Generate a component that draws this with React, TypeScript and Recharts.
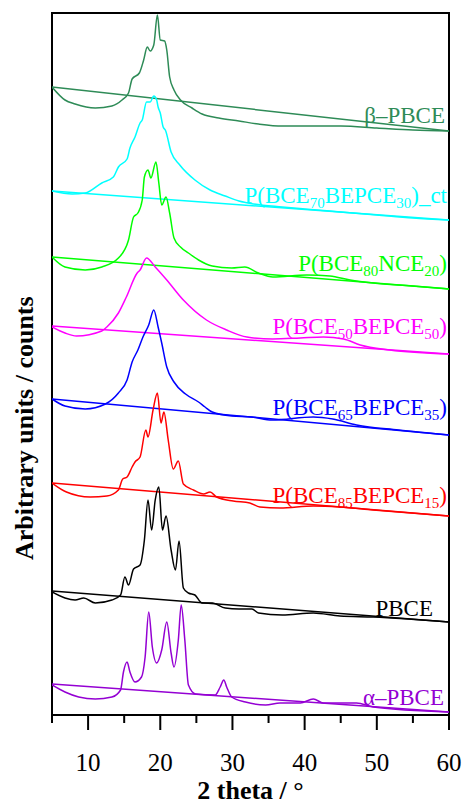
import React from 'react';
import { LineChart, Line, XAxis, YAxis, ReferenceArea } from 'recharts';

// 2 theta range and arbitrary intensity scale (patterns are stacked with offsets)
const X_DOMAIN = [5, 60];
const Y_DOMAIN = [0, 702];
const X_TICKS = [5, 10, 15, 20, 25, 30, 35, 40, 45, 50, 55, 60];

// beta-PBCE
const betaX = [5.0, 6.8, 8.2, 11.0, 13.3, 14.7, 15.6, 16.1, 17.1, 17.7, 18.2, 18.6, 19.1, 19.6, 20.0, 20.6, 20.9, 21.3, 21.9, 22.8, 24.4, 25.8, 28.1, 30.9, 33.6, 36.9, 40, 45, 50, 55, 60];
const betaY = [628, 615, 611, 607, 609, 615, 622, 636, 642, 655, 668, 664, 670, 700, 675, 674, 665, 638, 625, 615, 607, 601, 597, 594, 591, 589, 589, 589, 587, 585, 584];

// P(BCE70BEPCE30)_ct
const ctX = [5.0, 7.8, 9.6, 11.9, 13.5, 14.2, 15.4, 15.8, 16.5, 17.2, 17.5, 18.1, 18.6, 19.1, 19.5, 19.7, 20.0, 20.4, 20.7, 21.5, 22.7, 24.8, 26.9, 29.0, 30.9, 33.0, 36.9, 40, 45, 50, 55, 60];
const ctY = [524, 521, 522, 532, 538, 548, 556, 567, 578, 592, 595, 613, 613, 619, 615, 608, 602, 588, 585, 563, 550, 535, 525, 519, 514, 511, 508, 506, 503, 500, 497, 495];

// P(BCE80NCE20)
const nceX = [5.0, 6.8, 9.6, 11.9, 14.2, 15.6, 16.3, 16.9, 17.5, 17.8, 18.3, 18.7, 19.4, 19.8, 20.2, 20.8, 21.3, 21.9, 22.8, 23.9, 25.3, 27.2, 29.9, 31.7, 33.6, 35.6, 40.3, 43.5, 46.3, 49.5, 55, 60];
const nceY = [458, 448, 445, 448, 457, 475, 498, 502, 515, 538, 545, 537, 553, 532, 510, 518, 502, 477, 468, 462, 455, 449, 447, 448, 442, 438, 440, 439, 435, 432, 429, 426];

// P(BCE50BEPCE50)
const b50X = [5.0, 6.8, 8.4, 11.9, 12.6, 14.2, 15.3, 16.8, 17.2, 18.1, 19.3, 20.9, 23.2, 26.4, 29.2, 32.0, 35.6, 39.4, 42.6, 45.4, 47.7, 51.8, 60];
const b50Y = [388, 382, 379, 384, 388, 402, 418, 442, 445, 457, 448, 435, 415, 395, 385, 378, 376, 377, 378, 376, 370, 365, 361];

// P(BCE65BEPCE35)
const b65X = [5.0, 6.8, 9.6, 12.4, 14.2, 15.4, 16.1, 16.9, 17.6, 18.4, 19.1, 19.7, 20.2, 20.9, 21.9, 23.5, 25.3, 26.2, 27.2, 29.9, 32.7, 35.5, 41.2, 43.9, 47.2, 53, 60];
const b65Y = [316, 309, 306, 311, 322, 335, 353, 365, 378, 390, 405, 388, 372, 348, 333, 321, 313, 308, 303, 299, 298, 295, 298, 296, 290, 285, 280];

// P(BCE85BEPCE15)
const b85X = [5.0, 7.0, 10.3, 12.6, 14.2, 14.8, 15.4, 16.1, 16.5, 17.2, 18.0, 18.3, 19.0, 19.6, 20.1, 20.5, 21.1, 21.8, 22.5, 23.2, 24.6, 26.0, 26.9, 27.8, 30.1, 32.4, 33.8, 36.6, 41.2, 44.9, 49.5, 60];
const b85Y = [232, 223, 218, 219, 225, 236, 238, 248, 253, 258, 285, 278, 305, 322, 292, 303, 275, 246, 254, 231, 225, 221, 223, 218, 214, 212, 208, 207, 209, 208, 205, 199];

// PBCE
const pbceX = [5.0, 6.8, 8.2, 9.4, 11.0, 13.3, 14.5, 15.1, 15.6, 16.3, 17.2, 17.8, 18.3, 18.8, 19.3, 19.8, 20.3, 20.8, 21.5, 22.1, 22.6, 23.2, 23.9, 24.8, 25.8, 27.2, 29.0, 30.9, 32.7, 33.6, 36.9, 41.2, 44.9, 49.5, 60];
const pbceY = [123, 117, 115, 117, 112, 115, 120, 138, 130, 146, 150, 175, 215, 185, 215, 228, 185, 199, 165, 145, 174, 127, 122, 120, 112, 112, 107, 106, 106, 102, 100, 102, 99, 98, 93];

// alpha-PBCE
const alphaX = [5.0, 6.8, 8.7, 11.0, 13.3, 14.5, 14.9, 15.4, 15.8, 16.5, 17.4, 17.9, 18.4, 18.9, 19.5, 20.2, 20.9, 21.5, 21.9, 22.5, 22.9, 23.4, 23.9, 24.9, 27.6, 28.3, 28.8, 29.2, 29.9, 31.8, 34.6, 36.6, 39.4, 41.2, 42.6, 47.2, 49.5, 60];
const alphaY = [30, 23, 18, 16, 18, 25, 43, 53, 43, 33, 38, 58, 103, 68, 52, 65, 93, 62, 48, 75, 110, 75, 30, 21, 20, 28, 35, 28, 18, 13, 10, 12, 12, 16, 12, 12, 8, 3];

// straight reference lines drawn under each pattern (value at 5 and at 60)
const baseStart = [628, 524, 458, 389, 316, 232, 124, 31];
const baseEnd = [584, 495, 426, 361, 280, 199, 93, 3];

const COLORS = ['#2E8B57', '#00FFFF', '#00FF00', '#FF00FF', '#0000FF', '#FF0000', '#000000', '#9400D3'];

// label pieces: odd indices are subscripts
const LABELS = [
  ['β–PBCE'],
  ['P(BCE', '70', 'BEPCE', '30', ')_ct'],
  ['P(BCE', '80', 'NCE', '20', ')'],
  ['P(BCE', '50', 'BEPCE', '50', ')'],
  ['P(BCE', '65', 'BEPCE', '35', ')'],
  ['P(BCE', '85', 'BEPCE', '15', ')'],
  ['PBCE'],
  ['α–PBCE'],
];
const LABEL_POS = [
  [445, 123], [447, 203], [447, 271], [447, 334], [447, 415], [447, 503], [433, 616], [444, 705],
];

const SERIES_X = [betaX, ctX, nceX, b50X, b65X, b85X, pbceX, alphaX];
const SERIES_Y = [betaY, ctY, nceY, b50Y, b65Y, b85Y, pbceY, alphaY];

const FONT = "'Liberation Serif', Tinos, 'Times New Roman', 'DejaVu Serif', 'Noto Serif', serif";

const zip = (xs: number[], ys: number[]) => xs.map((x, i) => ({ x, y: ys[i] }));

const AxisTick = (props: any) => {
  const { x, y, payload } = props;
  const major = payload.value % 10 === 0;
  return (
    <g>
      <line x1={x} x2={x} y1={y} y2={y + (major ? 15 : 8)} stroke="#000" strokeWidth={2} />
      {major && (
        <text x={x} y={y + 56} textAnchor="middle" fill="#000" style={{ fontFamily: FONT, fontSize: 25 }}>
          {payload.value}
        </text>
      )}
    </g>
  );
};

export default function App() {
  return (
    <div style={{ position: 'absolute', left: 0, top: 0, width: 465, height: 805, background: '#fff', fontFamily: FONT }}>
      <LineChart width={465} height={805} margin={{ top: 13, right: 16, left: 52, bottom: 30 }}>
        <XAxis
          type="number"
          dataKey="x"
          domain={X_DOMAIN}
          ticks={X_TICKS}
          interval={0}
          allowDataOverflow
          height={60}
          tickSize={0}
          tickMargin={0}
          tickLine={false}
          tick={<AxisTick />}
          axisLine={{ stroke: '#000', strokeWidth: 2 }}
        />
        <YAxis type="number" domain={Y_DOMAIN} allowDataOverflow hide />
        <ReferenceArea x1={5} x2={60} y1={0} y2={702} fill="none" stroke="#000" strokeWidth={2} />
        {SERIES_X.map((xs, i) => (
          <Line
            key={`base-${i}`}
            data={[{ x: X_DOMAIN[0], y: baseStart[i] }, { x: X_DOMAIN[1], y: baseEnd[i] }]}
            dataKey="y"
            type="linear"
            stroke={COLORS[i]}
            strokeWidth={1.5}
            dot={false}
            activeDot={false}
            isAnimationActive={false}
          />
        ))}
        {SERIES_X.map((xs, i) => (
          <Line
            key={`xrd-${i}`}
            data={zip(xs, SERIES_Y[i])}
            dataKey="y"
            type="monotone"
            stroke={COLORS[i]}
            strokeWidth={1.5}
            dot={false}
            activeDot={false}
            isAnimationActive={false}
          />
        ))}
      </LineChart>
      <svg
        width={465}
        height={805}
        style={{ position: 'absolute', left: 0, top: 0, pointerEvents: 'none', fontFamily: FONT }}
      >
        {LABELS.map((parts, i) => (
          <text key={i} x={LABEL_POS[i][0]} y={LABEL_POS[i][1]} textAnchor="end" fill={COLORS[i]} style={{ fontSize: 23 }}>
            {parts.map((p, j) =>
              j % 2 === 1 ? (
                <tspan key={j} dy={5} style={{ fontSize: 15 }}>{p}</tspan>
              ) : (
                <tspan key={j} dy={j > 0 ? -5 : 0}>{p}</tspan>
              )
            )}
          </text>
        ))}
        <text x={250.5} y={799} textAnchor="middle" fill="#000" style={{ fontSize: 26, fontWeight: 'bold' }}>
          2 theta / °
        </text>
        <text transform="translate(33,560) rotate(-90)" fill="#000" style={{ fontSize: 26, fontWeight: 'bold' }}>
          Arbitrary units / counts
        </text>
      </svg>
    </div>
  );
}
